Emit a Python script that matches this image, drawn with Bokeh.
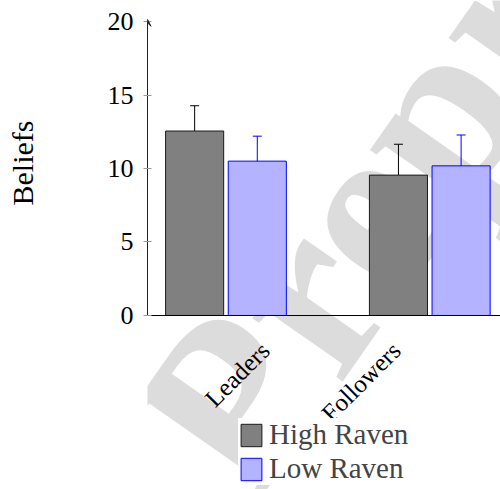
import numpy as np
from bokeh.plotting import figure
from bokeh.models import (Range1d, LinearAxis, FixedTicker, Whisker, TeeHead, Title,
                          ColumnDataSource, Legend, LegendItem, Label, Arrow, VeeHead)
from bokeh.embed import file_html
from bokeh.resources import INLINE

# ---------------- data ----------------
categories = ["Leaders", "Followers"]
series_names = ["High Raven", "Low Raven"]
high_raven = [12.55, 9.55]
high_raven_err = [1.72, 2.10]
low_raven = [10.50, 10.18]
low_raven_err = [1.70, 2.10]
y_ticks = [0, 5, 10, 15, 20]
y_label = "Beliefs"
watermark_text = "Preprint"

# ---------------- layout constants ----------------
FONT = "Liberation Serif"
BAR_W = 0.285
OFFSET = 0.1537
label_shift = [0.193, -0.164]   # where each rotated category label ends

p = figure(width=500, height=489, output_backend="svg", toolbar_location=None,
           x_range=Range1d(-0.385, 1.347), y_range=Range1d(-11.84, 21.43),
           x_axis_location=None, y_axis_location=None,
           min_border_left=147, min_border_right=0, min_border_top=0, min_border_bottom=0)
p.outline_line_color = None
p.xgrid.visible = False
p.ygrid.visible = False
p.background_fill_color = "white"
p.border_fill_color = "white"

# watermark (behind everything)
wm = Label(x=-0.184, y=-9.86, text=watermark_text, angle=np.deg2rad(55),
           text_font=FONT, text_font_style="bold", text_font_size="240px",
           text_color="#dcdcdc", text_align="left", text_baseline="middle",
           level="underlay")
p.add_layout(wm)

x = np.arange(len(categories), dtype=float)
hi = np.array(high_raven); hie = np.array(high_raven_err)
lo = np.array(low_raven); loe = np.array(low_raven_err)

src_hi = ColumnDataSource(dict(x=x - OFFSET, top=hi, upper=hi + hie, lower=hi - hie))
src_lo = ColumnDataSource(dict(x=x + OFFSET, top=lo, upper=lo + loe, lower=lo - loe))

r_hi = p.vbar(x="x", top="top", bottom=0, width=BAR_W, source=src_hi,
              fill_color="#808080", line_color="#1a1a1a", line_width=1)
r_lo = p.vbar(x="x", top="top", bottom=0, width=BAR_W, source=src_lo,
              fill_color="#b3b3ff", line_color="#0000ff", line_width=1)

for src, col in ((src_hi, "black"), (src_lo, "#0000ff")):
    w = Whisker(source=src, base="x", upper="upper", lower="lower",
                line_color=col, line_width=1,
                upper_head=TeeHead(size=9, line_color=col, line_width=1),
                lower_head=TeeHead(size=9, line_color=col, line_width=1))
    p.add_layout(w)

# y axis (0..20 only); a blank axis label only reserves room for the title
yaxis = LinearAxis(bounds=(0, 20), ticker=FixedTicker(ticks=y_ticks),
                   axis_label=" ", axis_label_text_font_size="10px",
                   axis_label_standoff=49,
                   major_label_text_font=FONT, major_label_text_font_size="26px",
                   major_label_text_color="black", major_label_standoff=10,
                   major_tick_in=4, major_tick_out=4, major_tick_line_color="#999999",
                   minor_tick_line_color=None, axis_line_color="#222222")
p.add_layout(yaxis, "left")

# y axis title, placed beside the 0..20 span
ytitle = Title(text=y_label, align="left", vertical_align="bottom", offset=284, standoff=6,
               text_font=FONT, text_font_size="30px", text_font_style="normal",
               text_color="black")
p.add_layout(ytitle, "left")

arrow = Arrow(end=VeeHead(size=7, line_color="#222222", fill_color="#222222", line_width=1),
              x_start=-0.385, y_start=19.0, x_end=-0.385, y_end=20.15,
              line_color="#222222", line_width=1)
p.add_layout(arrow)

# x axis at y = 0
tick_pos = [i + s for i, s in enumerate(label_shift)]
xaxis = LinearAxis(fixed_location=0, ticker=FixedTicker(ticks=tick_pos),
                   major_label_overrides={t: c for t, c in zip(tick_pos, categories)},
                   major_label_orientation=np.pi / 4,
                   major_label_text_font=FONT, major_label_text_font_size="25px",
                   major_label_text_color="black", major_label_standoff=31,
                   major_tick_in=0, major_tick_out=0, minor_tick_line_color=None,
                   axis_line_color="black", axis_line_width=1)
p.add_layout(xaxis, "below")

legend = Legend(items=[LegendItem(label=series_names[0], renderers=[r_hi]),
                       LegendItem(label=series_names[1], renderers=[r_lo])],
                location=(91, 4), orientation="vertical",
                label_text_font=FONT, label_text_font_size="29px",
                glyph_width=26, glyph_height=28, label_standoff=5,
                spacing=1, padding=5, margin=0,
                border_line_color=None, background_fill_color="white",
                background_fill_alpha=1.0)
p.add_layout(legend)

open("out.html", "w").write(file_html(p, INLINE))
